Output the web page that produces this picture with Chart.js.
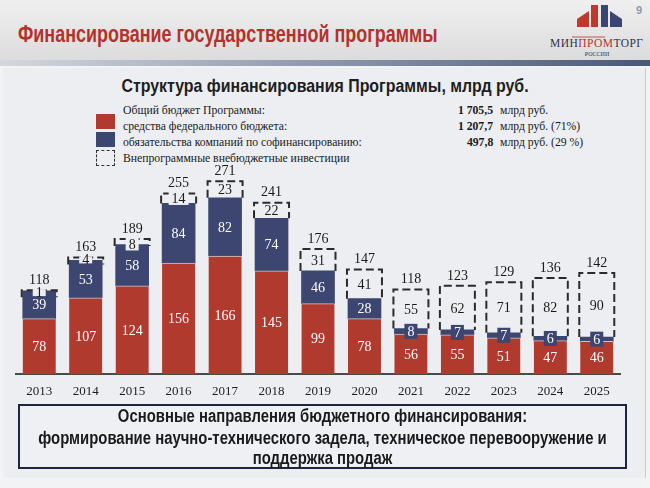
<!DOCTYPE html>
<html><head><meta charset="utf-8">
<script src="https://cdn.jsdelivr.net/npm/chart.js@4/dist/chart.umd.min.js"></script>
<style>
html,body{margin:0;padding:0;width:650px;height:488px;overflow:hidden;background:#f2f3f5;}
#page{position:relative;width:650px;height:488px;}
.narrow{font-family:"Liberation Sans",Arial,sans-serif;font-weight:bold;white-space:nowrap;}
#header{position:absolute;left:0;top:0;width:650px;height:60px;background:linear-gradient(#efefef,#dcdcdc);}
#stripe{position:absolute;left:0;top:60px;width:650px;height:6px;background:linear-gradient(90deg,#d4d7dd,#8d97ab 50%,#4a5878);}
#title{position:absolute;left:18px;top:21px;font-size:23px;color:#b3322c;transform:scaleX(0.78);transform-origin:0 0;}
#pnum{position:absolute;left:636px;top:4px;font:bold 11px "Liberation Sans",sans-serif;color:#8c99ad;}
#panel{position:absolute;left:3px;top:68px;width:642px;height:410px;background:#eceef1;border-right:1px solid #c9ccd2;}
#subtitle{position:absolute;left:0;width:650px;top:75px;text-align:center;font-size:18.5px;color:#1e1e1e;transform:scaleX(0.86);transform-origin:50% 0;}
.lg{position:absolute;font:13px "Liberation Serif",serif;color:#1a1a1a;white-space:nowrap;transform:scaleX(0.9);transform-origin:0 0;}
.num{font-weight:bold;transform-origin:100% 0;}
.sw{position:absolute;left:96px;width:19px;height:15px;}
#box{position:absolute;left:18px;top:404px;width:605px;height:61px;border:2px solid #1f2540;background:#eef0f4;}
.bl{position:absolute;left:-80px;width:765px;text-align:center;font-size:17.5px;color:#1a1a1a;transform:scaleX(0.85);transform-origin:50% 0;}
canvas{position:absolute;left:0;top:160px;}
</style></head>
<body><div id="page">
<div id="header"></div>
<div id="stripe"></div>
<div id="panel"></div>
<div id="title" class="narrow">Финансирование государственной программы</div>
<div id="pnum">9</div>
<svg style="position:absolute;left:545px;top:2px" width="100" height="58" viewBox="545 2 100 58">
  <polygon points="577,19 589,11 589,27 577,27" fill="#c0392f"/>
  <polygon points="591,5 598,5 598,27 591,27" fill="#c0392f"/>
  <polygon points="601,5 608,5 608,27 601,27" fill="#3b4571"/>
  <polygon points="610,11 622,19 622,27 610,27" fill="#3b4571"/>
  <text x="550" y="47" font-family="Liberation Serif" font-size="11.5" fill="#2c3350" textLength="93">МИН<tspan fill="#b3322c">ПРОМ</tspan>ТОРГ</text>
  <line x1="572" y1="37" x2="605" y2="37" stroke="#b3322c" stroke-width="0.8"/>
  <text x="597" y="56" font-family="Liberation Serif" font-size="6" fill="#2c3350" text-anchor="middle">РОССИИ</text>
</svg>
<div id="subtitle" class="narrow">Структура финансирования Программы, млрд руб.</div>

<div class="sw" style="top:114px;background:#b03a2e"></div>
<div class="sw" style="top:132px;background:#3c4670"></div>
<div class="sw" style="top:150px;width:17px;height:14px;border:1.5px dashed #333;box-sizing:content-box;left:96px;"></div>
<div class="lg" style="left:123px;top:102px">Общий бюджет Программы:</div>
<div class="lg" style="left:123px;top:118px">средства федерального бюджета:</div>
<div class="lg" style="left:123px;top:134px">обязательства компаний по софинансированию:</div>
<div class="lg" style="left:123px;top:150px">Внепрограммные внебюджетные инвестиции</div>
<div class="lg num" style="right:157px;top:102px">1 705,5</div>
<div class="lg num" style="right:157px;top:118px">1 207,7</div>
<div class="lg num" style="right:157px;top:134px">497,8</div>
<div class="lg" style="left:500px;top:102px">млрд руб.</div>
<div class="lg" style="left:500px;top:118px">млрд руб. (71%)</div>
<div class="lg" style="left:500px;top:134px">млрд руб. (29 %)</div>

<canvas id="c" width="650" height="250" style="width:650px;height:250px"></canvas>

<div id="box">
  <div class="bl narrow" style="top:0px">Основные направления бюджетного финансирования:</div>
  <div class="bl narrow" style="top:22px">формирование научно-технического задела, техническое перевооружение и</div>
  <div class="bl narrow" style="top:42px">поддержка продаж</div>
</div>
</div>
<script>
const years = ["2013","2014","2015","2016","2017","2018","2019","2020","2021","2022","2023","2024","2025"];
const federal = [78,107,124,156,166,145,99,78,56,55,51,47,46];
const companies = [39,53,58,84,82,74,46,28,8,7,7,6,6];
const extra = [1,4,8,14,23,22,31,41,55,62,71,82,90];
const totals = [118,163,189,255,271,241,176,147,118,123,129,136,142];

const RED = "#b03a2e", BLUE = "#3c4670", PANEL = "#eceef1";
const SERIF = '"Liberation Serif","DejaVu Serif",serif';

const labelPlugin = {
  id: "segLabels",
  afterDatasetsDraw(chart) {
    const ctx = chart.ctx;
    const m0 = chart.getDatasetMeta(0), m1 = chart.getDatasetMeta(1), m2 = chart.getDatasetMeta(2);
    ctx.save();
    ctx.strokeStyle = "#2b2b2b";
    ctx.lineWidth = 2;
    ctx.setLineDash([8, 4]);
    m2.data.forEach(el => {
      const p = el.getProps(["x","y","base","width"], true);
      const l = p.x - p.width/2 - 1, r = p.x + p.width/2 + 1;
      const b = Math.max(p.base, p.y + 7);
      ctx.beginPath();
      ctx.moveTo(l, b); ctx.lineTo(l, p.y); ctx.lineTo(r, p.y); ctx.lineTo(r, b);
      ctx.stroke();
    });
    ctx.setLineDash([]);
    ctx.textAlign = "center";
    ctx.textBaseline = "middle";
    ctx.font = "14px " + SERIF;
    m0.data.forEach((el, i) => {
      const p = el.getProps(["x","y","base"], true);
      ctx.fillStyle = "#ffffff";
      ctx.fillText(String(federal[i]), p.x, (p.y + p.base)/2 + 1);
    });
    m1.data.forEach((el, i) => {
      const p = el.getProps(["x","y","base"], true);
      const h = p.base - p.y;
      const cy = (p.y + p.base)/2;
      const t = String(companies[i]);
      if (h < 14) {
        const w = ctx.measureText(t).width + 6;
        ctx.fillStyle = BLUE;
        ctx.fillRect(p.x - w/2, cy - 7.5, w, 15);
      }
      ctx.fillStyle = "#ffffff";
      ctx.fillText(t, p.x, cy + 1);
    });
    m2.data.forEach((el, i) => {
      const p = el.getProps(["x","y","base"], true);
      const h = p.base - p.y;
      const t = String(extra[i]);
      let cy = (p.y + p.base)/2;
      let bgTop = cy - 6.5, bgH = 13;
      if (h < 3) { cy = p.y + 2; bgTop = p.y - 1; bgH = 7; }
      else if (h < 14) { cy = p.y + 5; bgTop = cy - 6.5; }
      if (extra[i] < 25) {
        const w = ctx.measureText(t).width + 6;
        ctx.fillStyle = PANEL;
        ctx.fillRect(p.x - w/2, bgTop, w, bgH);
      }
      ctx.fillStyle = "#1a1a1a";
      ctx.fillText(t, p.x, cy + 1);
      ctx.fillText(String(totals[i]), p.x, p.y - 10);
    });
    ctx.restore();
  }
};

new Chart(document.getElementById("c"), {
  type: "bar",
  data: {
    labels: years,
    datasets: [
      { label: "средства федерального бюджета", data: federal, backgroundColor: RED,
        borderColor: "rgba(215,205,205,0.9)", borderWidth: {top: 1, left: 0, right: 0, bottom: 0}, borderSkipped: false },
      { label: "обязательства компаний по софинансированию", data: companies, backgroundColor: BLUE, borderWidth: 0 },
      { label: "Внепрограммные внебюджетные инвестиции", data: extra, backgroundColor: "rgba(0,0,0,0)", borderWidth: 0 }
    ]
  },
  options: {
    responsive: false,
    animation: false,
    devicePixelRatio: 1,
    layout: { padding: { left: 16, right: 30, top: 10, bottom: 0 } },
    datasets: { bar: { barThickness: 33 } },
    plugins: { legend: { display: false }, tooltip: { enabled: false } },
    scales: {
      x: {
        stacked: true,
        grid: { display: false, drawTicks: false },
        border: { display: true, color: "#4a4a4a", width: 2 },
        ticks: { color: "#1e1e1e", font: { family: SERIF, size: 13 }, padding: 10, maxRotation: 0 },
        afterFit(scale) { scale.height = 36; }
      },
      y: { stacked: true, display: false, min: 0, max: 287 }
    }
  },
  plugins: [labelPlugin]
});
</script>
</body></html>
